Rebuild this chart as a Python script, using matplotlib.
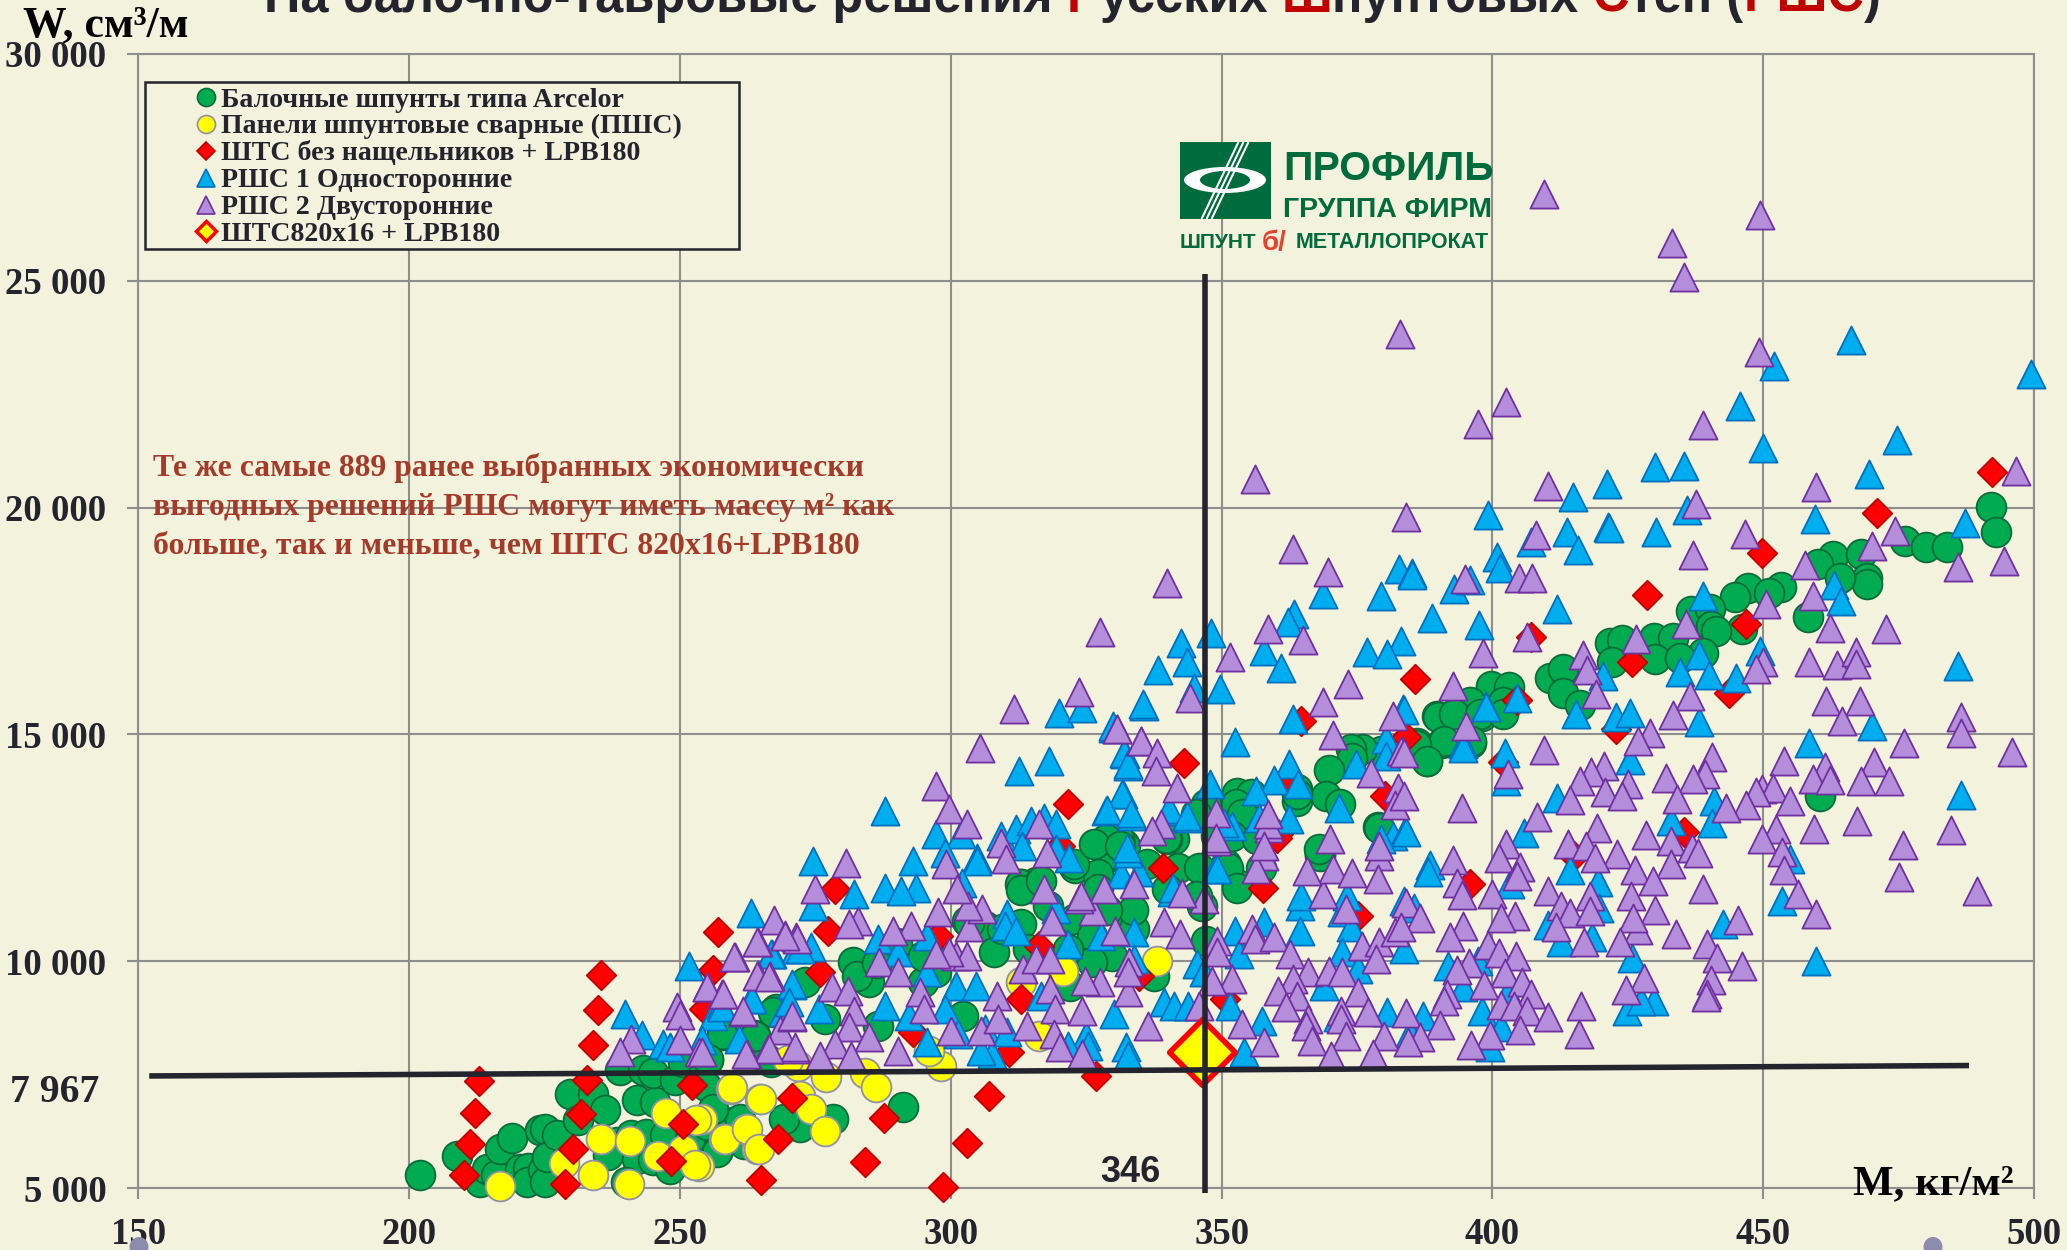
import numpy as np
import matplotlib
matplotlib.use('Agg')
import matplotlib.pyplot as plt
from matplotlib.lines import Line2D
from matplotlib.patches import Rectangle, Ellipse
from matplotlib.transforms import Affine2D

# балочные шпунты
green_pts = [(202,5296),(208.9,5707),(213,5134),(214.3,5428),(216.1,5281),(216.8,5869),(218.9,6104),(220.4,5428),(222,5443),(221.7,5134),
(224.1,6273),(225,6295),(224.7,5391),(225,5134),(225.4,5686),(227.2,6163),(229.7,7082),(234,7082),(231.2,6494),(236.1,6714),(242,6935),(245.3,6898),
(238.3,6016),(236.7,5722),(241,6163),(243.8,6200),(242,5649),(245,5612),(240.1,5134),(248.1,5428),(247.2,6163),(251.8,6090),(254.9,6383),(258.3,6457),
(257,5833),(261,6530),(238.9,7596),(243.2,7596),(245,7545),(249,7376),(250.6,7780),(253.7,7412),(255.2,7816),(258,8368),(263.8,8368),(267.8,8956),(266,7853),(269.6,6530),
(284.9,9534),(282,9976),(296.4,10086),(297.3,9755),(294.8,9534),(303,10894),(306.3,10784),(308,10196),(312.9,10821),(312.9,11703),(315.8,11740),(317.9,11225),
(322.8,12070),(322.8,10931),(327.7,12585),(329.8,12585),(331.9,12585),(329.8,12328),(326.5,11887),(333.1,11005),(333.9,10711),(326.1,10564),(329.8,10123),(326.1,9976),(322,9461),
(267.2,8873),(257.7,8395),(263.9,8358),(273,9534),(276.7,8726),(286.5,8579),(302.2,8800),(341.3,12695),(350.8,12144),(352.8,11703),(346.3,11225),(347.1,10453),(337.6,9681),
(364,13540),(368.1,12364),(378.8,12952),(356.6,12695),(255.2,7844),(266.8,7770),(291.1,6778),(278.3,6521),(272.1,6337),(269.2,6521),(256.9,5786),(261.8,5970),(254.8,7256),(256.1,6742),
(312.7,11693),(316.2,11729),(327.9,12574),(330,12612),(332.1,12538),(330,12354),(322.9,12060),(327.2,11914),(339.9,12685),(342,12060),(345.9,12060),(351.2,12060),(327.2,11583),(339.9,11583),(345.5,11436),(352.9,11619),(357.2,12060),(363.9,13787),(368.1,12317),
(389.8,15408),(394.1,15629),(396,15665),(398.1,15408),(399.8,16033),(386.1,14820),(390.7,14820),(388,14416),(396,14820),(379.4,14636),(376,14673),(373.8,14673),(374.1,14489),(369.8,14217),(369.2,13644),(371.9,13460),(364,13681),(379,12946),
(352.9,13718),(355.4,13681),(352.6,13460),(353.8,13240),(347.1,13460),(345.2,13240),(348.9,12762),(352,12762),(356.6,12689),(368,12468),(339.7,12725),(331.1,12689),(328.6,12689),
(476.2,19272),(480.1,19135),(484,19135),(462.9,18924),(468,18977),(460.1,18766),(469.1,18449),(469.1,18312),(464.2,18449),(453.2,18259),(447.2,18238),(451.1,18112),(444.8,18027),(458.2,17584),
(436.6,17711),(440.1,17764),(440.3,17394),(446.1,17320),(441.3,17289),(438.9,16793),(421.7,17025),(424,17078),(422,16603),(429.9,17130),(433.4,17130),(430.1,16656),(434.6,16688),
(410.7,16234),(413,16445),(413,15917),(416.2,15654),(399.7,16076),(403,16055),(395.8,15706),(389.9,15390),(393,15442),(402,15706),(397.7,15442),(402,15442),(391,14862),(396.1,14862),(385.9,14757),(387.9,14409),(460.4,13649),
(492,20023),(492.9,19472),
(282.6,9680),(286.3,9970),(290,10400),(294.8,10116),(303.3,10843),(309.4,10700),(313,11570),(316.7,11770),(322.8,12150),(326.4,12590),(331.3,12530),(336.2,12150),(333.7,11130),(328.9,11130),(321.6,10260),(314.3,10260)]

# панели ПШС
yellow_pts = [(338,10012),(320.7,9792),(312.9,9534),(316.2,8358),(298.1,7697),(296,8028),(284.2,7540),(286.1,7219),(277,7440),(271.7,7697),(272.1,7036),(274.2,6742),(276.7,6264),
(264.7,6962),(259.5,7183),(262.2,6301),(258.1,6080),(264.3,5860),(254,6521),(253.6,5492),(216.7,5046),(228.6,5560),(235.4,6090),(240.7,6031),(234,5296),(240.6,5097),(246,5707),(250.6,5832),(252.7,5502),
(247.5,6663),(253,6494),(258.3,6090),(262.4,6295),(264.6,5869),(259.6,7207),(264.9,6971),(270,7817)]

# ШТС без нащельников
red_pts = [(212.8,7361),(212.1,6663),(211.2,5979),(210.2,5296),(235.5,9706),(234.8,8927),(234,8147),(232.9,7376),(231.7,6626),(230.3,5854),(228.7,5097),(257,10646),(256.1,9801),(254.4,8956),(252.3,7265),(250.6,6420),(248.4,5597),(270.6,6994),(268.1,6075),(265,5171),
(277.3,10659),(275.8,9755),(297.7,10564),(316.2,10343),(312.9,9167),(293,8432),(310.8,7991),(326.8,7476),(375.1,11004),(350.6,9167),(334.7,9681),(307.1,7036),(303,5985),(287.6,6543),(284.1,5566),(298.5,5029),
(321.7,13457),(278.6,11583),(339.2,12060),(320.1,12538),(357.6,11619),(360.4,12795),(385.8,16231),(364.6,15298),(343.1,14379),(384,14952),(362.1,14012),(380.2,13644),(360.3,12726),
(449.8,18998),(428.6,18069),(407.2,17152),(425.8,16603),(446.9,17436),(443.6,15917),(404.6,15759),(422.8,15126),(401.9,14388),(435.4,12858),(415,12330),(395.8,11697),(492.2,20795),(471,19884)]

# РШС 1
blue_pts = [(263.1,11073),(251.6,9897),(239.9,8831),(243,8368),(246.9,8170),(248.2,8111),(256.1,8794),(257.6,9030),(254,8258),(263.2,9176),(266.9,10169),(260.9,8294),(270.6,9470),(269,8882),(271.5,10279),
(274.6,11225),(310.4,11041),(310,10784),(312.1,10674),(321.6,10380),(319.5,11151),(327.7,10564),(333.9,10637),(286.5,10490),(290.3,10196),(295.6,10564),(295.6,9755),(274.2,10306),(272.1,10269),(266.8,10159),(270.7,9498),(275.7,8947),(270.1,9094),(257.7,8983),(263.3,9167),(287.8,9020),(301,9461),(304.7,9461),(298.9,8947),(292.3,8800),(306.3,8505),(295.6,8212),(307.6,7954),(305.5,8028),(301.4,8395),(310.4,8432),(324.9,8359),(325.3,8138),(321.6,8138),(332.3,8101),(332.7,7918),(330.2,8836),(316.6,9241),(333.9,10049),(339.3,9094),(341.3,9020),(343.8,9020),(345.4,9939),(346.7,9755),(352.4,10674),(357.8,10857),(364.4,11225),(364.4,10674),(372.2,11078),(373.9,10747),(372.2,10196),(375.1,9828),(353.3,10159),(368.9,9461),(351.6,9020),(357.4,8689),(354.1,7991),(371.4,8763),(380.5,8873),(331.4,11923),(334.7,11960),(340.9,11519),(348.7,12033),
(319.9,15478),(324.2,15588),(335.6,15625),(330,15147),(318.1,14412),(312.6,14192),(332.1,14559),(332.8,14302),(331.8,13677),(328.6,13310),(333.4,13199),(340.2,13310),(343.8,13163),(287.8,13310),(297.3,12795),(301.8,12795),(309.2,12758),(312,12905),(314.8,13089),(317.3,13163),(319.4,13016),(313.1,12538),(319.4,12464),(321.9,12281),(298.9,12391),(293.1,12207),(304.9,12281),(304.9,12207),(274.6,12207),(332.7,12391),(287.8,11619),(293.6,11619),(290.8,11546),(282.2,11472),(302.1,11729),(341,11619),(349.1,12024),(373.1,11436),(364.6,11436),(381.6,12759),
(382.8,18642),(385.1,18554),(379.5,18054),(368.8,18091),(383.1,17062),(376.8,16819),(380.5,16782),(363.3,17650),(362.2,17481),(357.8,16841),(361,16459),(348.1,17231),(342.5,17010),(343.7,16606),(338.2,16422),(344.9,16033),(349.7,16011),(335.5,15665),(329.9,15188),(352.5,14842),(332,14600),(332.8,14343),(363.1,15349),(383.5,15570),(380.3,14894),(380.4,14526),(394.6,14783),(398.9,15628),(374.8,14342),(362.5,14342),(359.7,13990),(364.1,13916),(356.4,13755),(347.9,13901),(331.7,13681),(328.8,13335),(333.2,13262),(340.3,13350),(343.7,13203),(371.6,13387),(362.5,13130),(352,12983),(350.5,13056),(356.9,13166),(383.9,12872),(379.4,12689),(332.6,12505),
(466.3,23684),(499.5,22940),(452,23118),(445.7,22250),(450,21317),(474.7,21480),(469.5,20744),(430,20891),(435.4,20928),(421.1,20523),(414.8,20229),(399.2,19840),(435.9,19957),(459.6,19751),(421.4,19583),(430.2,19457),(413.7,19457),(487.2,19656),
(421.5,19557),(407.1,19240),(415.8,19061),(400.8,18903),(401.4,18660),(385.2,18523),(393,18207),(395.8,18397),(411.9,17764),(388.8,17574),(397.5,17405),(438.8,18048),(463.1,18291),(464.4,17943),(486,16498),(438.1,16761),(434.6,16371),(440,16308),(449.4,16846),(445,16234),(420.5,16287),(415.4,15442),(383.6,15548),(398.9,15601),(404.5,15812),(422.8,15390),(425.4,15463),(438.1,15284),(470.1,15179),(394.6,14704),(402.3,14599),(458.5,14810),(425.4,14440),(402.6,13966),(412,13596),(440.9,13522),(486.5,13670),(433,13100),(440.5,13037),(405.8,12826),(384,12858),(388.5,12119),(388.1,11961),(414.4,12014),(403.2,11697),(419.5,11750),(454.9,12256),(453.4,11328),(383.7,11328),(385.5,11170),(419.7,11170),(410.3,10800),(418.3,10537),(412.6,10431),(442.5,10822),(383.6,10273),(425.8,10062),(459.7,10009),(397.3,10009),(391.8,9904),(402.8,9323),(394.6,9429),(429.9,9112),(424.8,8901),(398.1,8901),(387.1,8796),(401.6,8554),(399.5,8110),(384.8,8427),(427.5,9112)]

# РШС 2
purple_pts = [(267.4,10904),(269.3,10588),(264.4,10426),(271.5,10536),(260.1,10095),(264.4,9691),(266.6,9676),(257.8,9287),(255,9434),(249.5,8993),(250,8809),(250,8258),(253.5,8000),(240.9,8294),(238.9,8000),(261.6,8882),(262.4,7964),(266.3,8074),(268.4,8478),(270.6,8772),(271.2,8074),
(326.3,11115),(323.6,11372),(318.7,10894),(346.7,11372),(368.8,11482),(373,11151),(339.4,10857),(342.4,10600),(330.4,10674),(349.1,10453),(349.1,10196),(355.7,10711),(356.2,10490),(359.6,10527),(362.7,10159),(375.9,10343),(379,10417),(378.6,10049),(382.1,10637),(366,9755),(369.9,9792),(372.2,9755),(363.2,9608),(360.4,9351),(364,9241),(375.1,9314),(361.9,8983),(372,8910),(377,8873),(353.7,8616),(366,8726),(365.6,8579),(372,8726),(380,8356),(373,8359),(366.7,8248),(357.8,8212),(370.2,7918),(378,7954),(352,9608),(348.3,9571),(345.9,9020),(336.4,8579),(332.7,9314),(332.9,9976),(332.7,9755),(327.5,9534),(324.8,9571),(324.3,8910),(318.3,9387),(319.3,8947),(313.3,9828),(315.8,10049),(318.3,10049),(303.3,10747),(305.7,11151),(303.2,11225),(297.7,11078),(300.9,10123),(303,10123),(299.7,10196),(297.3,10159),(292.7,10784),(289.4,10674),(286.7,9976),(290.3,9755),(282.8,10894),(281.2,10821),(271.6,10490),(269.3,10564),(264.3,10417),(260,10086),(264.3,9681),(266.5,9645),(255,9424),(257.9,9277),(261.6,8910),(278.1,9424),(281,9351),(282.2,8910),(270.7,8800),(281.2,8542),(284.9,8322),(278.7,8175),(271.3,8101),(266.4,8064),(262.2,7954),(275.8,7918),(281.6,7918),(290.3,8028),(254,7990),(294.4,9314),(295,8947),(300,8469),(305.5,8469),(308.6,9241),(308.8,8726),(314.1,8579),(319.1,8395),(320.2,8101),(324.3,7954),
(327.6,17264),(323.6,15934),(311.6,15552),(305.3,14706),(330.7,15111),(335.2,14853),(297.2,13861),(299.6,13346),(303,13016),(316.2,13016),(309.2,12597),(310.1,12244),(317.8,12391),(280.7,12170),(299.1,12134),(349.1,12648),(358.8,12942),(357.9,12317),(356.3,12024),(370.6,12024),(365.7,11987),(374.1,11950),(379.1,12317),(378.8,11803),(333.9,11693),(328.2,11583),(317.3,11583),(301.1,11583),(324,11436),(274.9,11583),(342.7,11509),
(356.2,20626),(340,18348),(363.1,19083),(369.7,18591),(358.5,17319),(365.1,17084),(351.5,16709),(344.1,15798),(330.6,15129),(335.1,14857),(338,14600),(337.9,14195),(373.3,16106),(368.8,15724),(381.6,15408),(370.6,14982),(383.2,14636),(377.5,14158),(341.7,13813),(382.6,13828),(382,13438),(348.9,13277),(358.6,13019),(358.5,13240),(338.8,13019),(337.2,12872),(348.9,12725),(370.1,12689),(379,12542),(357.8,12542),
(409.6,26918),(449.4,26440),(433.2,25830),(435.4,25080),(383,23823),(449.3,23426),(402.5,22324),(397.3,21846),(438.8,21810),(410.3,20472),(459.7,20450),(437.6,20075),(384,19803),(496.6,20817),(408,19406),(446.6,19420),(474.3,19494),
(486,18692),(494.5,18818),(437,18945),(405,18449),(407.4,18449),(395,18418),(398.3,16793),(406.3,17152),(416.8,16761),(417.5,16424),(419.2,15886),(392.8,16076),(426.5,17099),(435.8,17426),(457.8,18734),(459.2,18048),(450.6,17869),(470.1,19156),(462.4,17342),(472.6,17320),(458.5,16603),(463.7,16529),(467.2,16814),(467.2,16550),(450,16603),(448.7,16445),(436.5,15843),(433.3,15421),(461.6,15727),(467.8,15727),(464.5,15305),(486.6,15390),(486.5,15020),(476,14810),(495.9,14620),(429.1,15020),(426.8,14862),(409.5,14651),(395.2,15179),(383.6,14600),(440.5,14493),(453.8,14409),(470.5,14388),(461.5,14282),(439.3,14124),(420.6,14314),(418.2,14177),(402.8,14124),(432,14040),(437.1,14019),(459.2,14019),(462.3,13987),(468.1,13966),(473.3,13966),(425,13913),(416.2,13966),(449.8,13807),(451.9,13828),(448.7,13733),(420.7,13723),(424,13649),(414.4,13544),(454.9,13522),(434,13565),(446.8,13438),(443.2,13385),(394.3,13385),(383.6,13649),(408.2,13174),(459.3,12910),(467.3,13100),(452.3,12910),(419.4,12932),(449.7,12700),(484.6,12889),(428.4,12773),(432.9,12647),(402.6,12594),(414,12594),(417.2,12541),(436.8,12489),(475.9,12562),(453.4,12404),(423,12362),(438,12383),(401.2,12277),(392.8,12225),(418.9,12277),(433,12151),(405.1,12067),(453.8,12014),(426.4,12014),(475,11855),(404.6,11877),(393.5,11729),(429.7,11771),(489.4,11539),(438.8,11592),(410.3,11539),(394.4,11465),(399.9,11486),(456.4,11486),(425.6,11433),(384,11275),(418.1,11433),(412.6,11222),(404.2,10990),(386.7,10959),(414.4,11064),(430.1,11138),(418.1,11096),(459.7,11032),(445.4,10906),(394.6,10779),(401.6,10959),(383.2,10747),(392.2,10537),(411.7,10747),(426.8,10695),(426,10959),(433.9,10590),(423.6,10431),(416.9,10431),(399.1,10357),(439.7,10379),(401.2,10189),(404.4,10115),(395.7,9956),(441.4,10062),(446.1,9904),(393.4,9798),(402.3,9746),(398.5,9481),(405.4,9535),(427.9,9619),(440.3,9587),(424.6,9376),(439.7,9271),(439.5,9218),(407.1,9271),(391.7,9271),(391,9112),(401.5,9028),(404,9007),(406.3,8901),(416.4,9007),(410.3,8775),(390.3,8585),(384,8849),(405.1,8479),(399.5,8374),(416,8395),(386.7,8321),(384.4,8216),(396.1,8163)]

# ШТС820х16 + LPB180
special_x = [346.4]
special_y = [8000]

x_ticks = [150, 200, 250, 300, 350, 400, 450, 500]
y_ticks = [5000, 10000, 15000, 20000, 25000, 30000]
y_tick_labels = ['5 000', '10 000', '15 000', '20 000', '25 000', '30 000']

legend_labels = ['Балочные шпунты типа Arcelor', 'Панели шпунтовые сварные (ПШС)', 'ШТС без нащельников + LPB180',
                 'РШС 1 Односторонние', 'РШС 2 Двусторонние', 'ШТС820х16 + LPB180']

BG = '#F3F2DD'
DARK = '#24242F'
GRID = '#8E8E8E'
W, H = 2067, 1250
SERIF = 'Liberation Serif'

plt.rcParams['font.family'] = SERIF
fig = plt.figure(figsize=(W / 100, H / 100), dpi=100, facecolor=BG)
ax = fig.add_axes([138.4 / W, 1 - 1188 / H, (2034 - 138.4) / W, (1188 - 54) / H], facecolor=BG)
# пиксели картинки, y вниз
px = Affine2D().scale(1 / W, -1 / H).translate(0, 1) + fig.transFigure

ax.set_xlim(150, 500)
ax.set_ylim(5000, 30000)
ax.set_xticks(x_ticks)
ax.set_yticks(y_ticks)
ax.set_yticklabels(y_tick_labels)
ax.grid(True, color=GRID, lw=1.5)
ax.set_axisbelow(True)
ax.tick_params(length=8, width=1.5, color=GRID, labelsize=26.5, labelcolor=DARK)
ax.tick_params(axis='x', pad=13)
ax.tick_params(axis='y', pad=15)
for lab in ax.get_xticklabels() + ax.get_yticklabels():
    lab.set_fontweight('bold')
for s in ax.spines.values():
    s.set_color(GRID)
    s.set_linewidth(1.5)

series = [
    (green_pts, 'o', 460, '#00AC4F', '#0B6B3A'),
    (yellow_pts, 'o', 460, '#FFFF00', '#9090A8'),
    (red_pts, 'D', 225, '#FF0000', '#C00000'),
    (blue_pts, '^', 410, '#00AEEF', '#0070C0'),
    (purple_pts, '^', 410, '#B48EDB', '#7030A0'),
]
for pts, mk, size, fc, ec in series:
    xs, ys = np.array(pts).T
    ax.scatter(xs, ys, marker=mk, s=size, facecolor=fc, edgecolor=ec, linewidth=1.3, clip_on=False, zorder=3)

# вертикаль и горизонталь через ШТС820х16
ax.plot([152, 488], [7470, 7700], color=DARK, lw=4, clip_on=False, zorder=6, solid_capstyle='butt')
ax.plot([347, 347], [25150, 4900], color=DARK, lw=4, clip_on=False, zorder=6, solid_capstyle='butt')
ax.scatter(special_x, special_y, marker='D', s=1120, facecolor='#FFFF00', edgecolor='#FF0000', linewidth=4, clip_on=False, zorder=5)

# легенда
fig.add_artist(Rectangle((145, 82), 594, 167, transform=px, facecolor=BG, edgecolor=DARK, lw=1.8, zorder=7))
handles = [
    Line2D([], [], ls='', marker='o', ms=13, mfc='#00AC4F', mec='#0B6B3A', mew=1.2),
    Line2D([], [], ls='', marker='o', ms=13, mfc='#FFFF00', mec='#9090A8', mew=1.2),
    Line2D([], [], ls='', marker='D', ms=9, mfc='#FF0000', mec='#C00000', mew=1.2),
    Line2D([], [], ls='', marker='^', ms=13, mfc='#00AEEF', mec='#0070C0', mew=1.2),
    Line2D([], [], ls='', marker='^', ms=13, mfc='#B48EDB', mec='#7030A0', mew=1.2),
    Line2D([], [], ls='', marker='D', ms=10, mfc='#FFFF00', mec='#FF0000', mew=2.5),
]
leg = fig.legend(handles, legend_labels, loc='upper left', bbox_to_anchor=(192 / W, 1 - 87 / H),
                 frameon=False, handlelength=1, handletextpad=0.05, labelspacing=0.05,
                 borderpad=0, borderaxespad=0, prop={'family': SERIF, 'weight': 'bold', 'size': 20.1})
leg.set_zorder(8)
for t in leg.get_texts():
    t.set_color(DARK)

# подписи осей
fig.text(23 / W, 1 - 37 / H, 'W, см³/м', fontsize=31.5, fontweight='bold', color='black', va='baseline', zorder=9)
fig.text(1853 / W, 1 - 1194 / H, 'М, кг/м²', fontsize=31, fontweight='bold', color='black', va='baseline', zorder=9)
fig.text(99 / W, 1 - 1093 / H, '7 967', fontsize=28.5, fontweight='bold', color=DARK, ha='right', va='center')
fig.text(1160 / W, 1 - 1172 / H, '346', fontsize=26, fontweight='bold', family='Liberation Sans', color=DARK, ha='right', va='center', zorder=9)

note = ['Те же самые 889 ранее выбранных экономически', 'выгодных решений РШС могут иметь массу м² как', 'больше, так и меньше, чем ШТС 820х16+LPB180']
for i, line in enumerate(note):
    fig.text(153 / W, 1 - (468 + i * 39) / H, line, fontsize=22.9, fontweight='bold', color='#A63A28', va='center', zorder=2)

# заголовок по кусочкам, часть букв красная
TITLE_SIZE = 36.4
title_parts = [('На балочно-тавровые решения ', DARK), ('Р', '#C00000'), ('усских ', DARK), ('Ш', '#C00000'), ('пунтовых ', DARK),
               ('С', '#C00000'), ('тен (', DARK), ('РШС', '#C00000'), (')', DARK)]
renderer = fig.canvas.get_renderer()
def title_width(s):
    probe = fig.text(0, 0, s + '|', fontsize=TITLE_SIZE, fontweight='bold', family='Liberation Sans')
    w0 = probe.get_window_extent(renderer).width
    probe.set_text('|')
    w1 = probe.get_window_extent(renderer).width
    probe.remove()
    return w0 - w1
prefix = ''
for part, col in title_parts:
    fig.text((264 + title_width(prefix)) / W, 1 - 12 / H, part, fontsize=TITLE_SIZE, fontweight='bold', family='Liberation Sans', color=col, va='baseline')
    prefix += part

# логотип
LOGO = '#006B3C'
LOGO_FONT = 'Liberation Sans'
fig.add_artist(Rectangle((1180, 142), 91, 77, transform=px, facecolor=LOGO, edgecolor='none', zorder=4))
fig.add_artist(Ellipse((1225, 180), 82, 26, transform=px, facecolor='white', edgecolor='none', zorder=4))
fig.add_artist(Ellipse((1225, 180), 50, 18, transform=px, facecolor=LOGO, edgecolor='none', zorder=4))
for dx in (-5, 0, 5):
    fig.add_artist(Line2D([1207 + dx, 1243 + dx], [218, 143], transform=px, color='white', lw=1.5, zorder=4))
fig.text(1283 / W, 1 - 180 / H, 'ПРОФИЛЬ', fontsize=29.5, fontweight='bold', family=LOGO_FONT, color=LOGO, va='baseline', zorder=4)
fig.text(1283 / W, 1 - 217 / H, 'ГРУППА ФИРМ', fontsize=20.5, fontweight='bold', family=LOGO_FONT, color=LOGO, va='baseline', zorder=4)
fig.text(1180 / W, 1 - 248 / H, 'ШПУНТ', fontsize=15, fontweight='bold', family=LOGO_FONT, color=LOGO, va='baseline', zorder=4)
fig.text(1262 / W, 1 - 250 / H, 'б/', fontsize=20, fontweight='bold', family=LOGO_FONT, color='#E8412B', va='baseline', zorder=4)
fig.text(1296 / W, 1 - 248 / H, 'МЕТАЛЛОПРОКАТ', fontsize=15.5, fontweight='bold', family=LOGO_FONT, color=LOGO, va='baseline', zorder=4)

# серые точки, обрезанные снизу
fig.add_artist(Ellipse((139, 1247), 19, 20, transform=px, facecolor='#8C8CAE', edgecolor='none'))
fig.add_artist(Ellipse((1933, 1247), 19, 20, transform=px, facecolor='#8C8CAE', edgecolor='none'))

fig.savefig('out.png', dpi=100, facecolor=BG)
